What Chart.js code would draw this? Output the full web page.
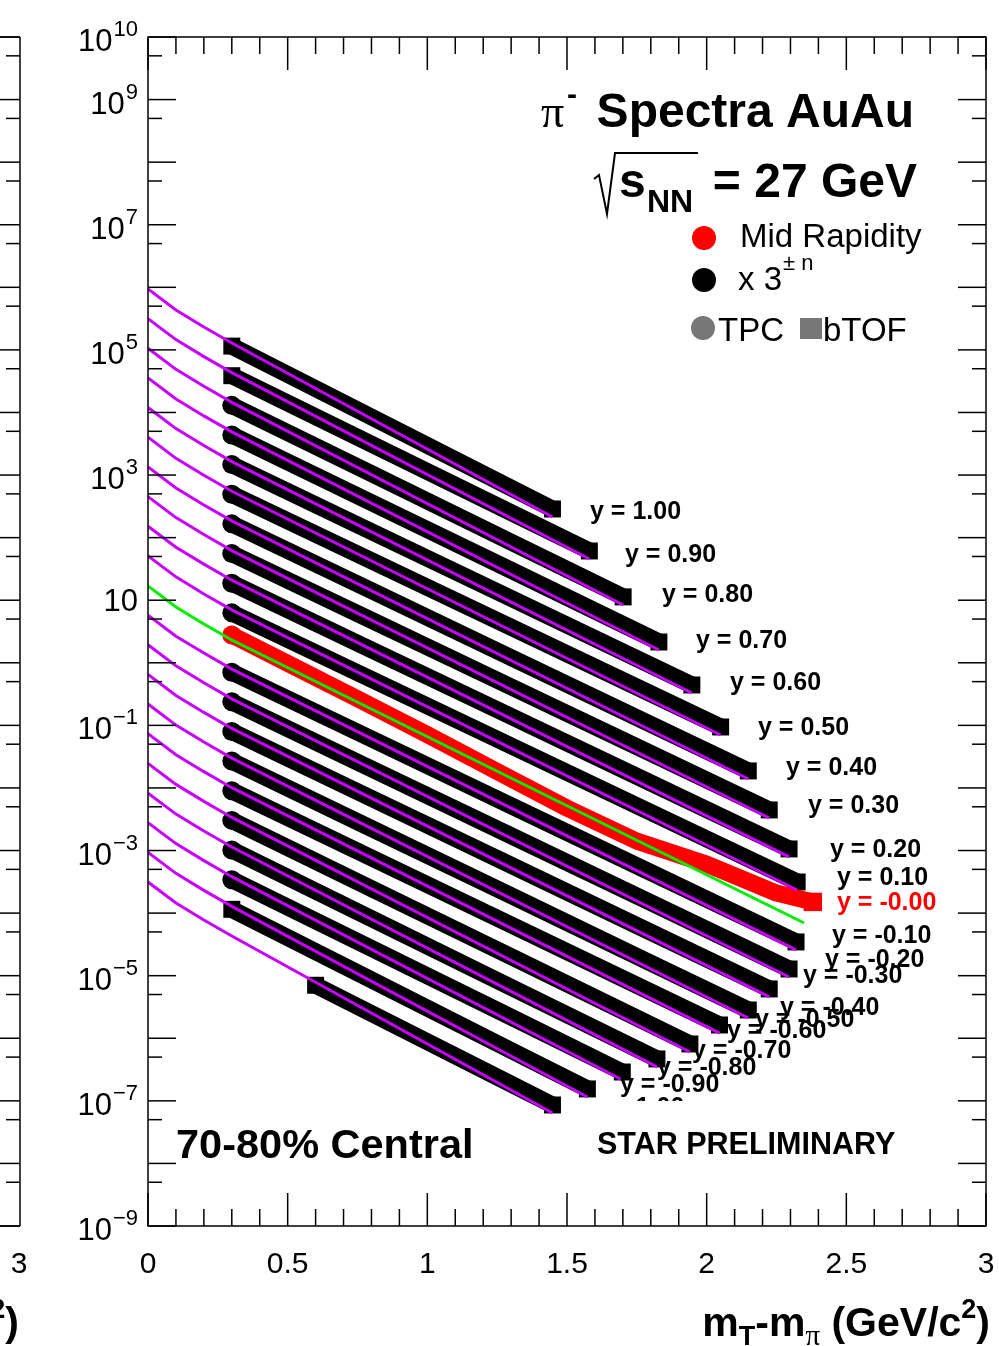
<!DOCTYPE html>
<html><head><meta charset="utf-8">
<script src="https://cdn.jsdelivr.net/npm/chart.js@4/dist/chart.umd.min.js"></script>
<style>html,body{margin:0;padding:0;background:#fff;}#wrap{width:999px;height:1346px;position:relative;}canvas{display:block;}</style>
</head><body><div id="wrap"><canvas id="c" width="999" height="1346"></canvas></div>
<script>
// ---------------- data ----------------
const rapidities = ['1.00','0.90','0.80','0.70','0.60','0.50','0.40','0.30','0.20','0.10','-0.00',
  '-0.10','-0.20','-0.30','-0.40','-0.50','-0.60','-0.70','-0.80','-0.90','-1.00'];
const scalePower = [10,9,8,7,6,5,4,3,2,1,0,-1,-2,-3,-4,-5,-6,-7,-8,-9,-10]; // x 3^n
const hasTPC = [false,false,true,true,true,true,true,true,true,true,true,true,true,true,true,true,true,true,true,false,false];

// measured spectra (bTOF / TPC), [mT-m, dN] already multiplied by 3^n
const yP100 = [[0.3,1.15e5],[0.8,8.47e3],[1.3,622],[1.448,287]];
const yP090 = [[0.3,3.87e4],[0.8,3.12e3],[1.3,251],[1.58,61.2]];
const yP080 = [[0.3,1.30e4],[0.8,1.05e3],[1.3,84.7],[1.701,11.3]];
const yP070 = [[0.3,4.38e3],[0.8,362],[1.3,30.1],[1.829,2.15]];
const yP060 = [[0.3,1.47e3],[0.8,125],[1.3,10.7],[1.947,0.442]];
const yP050 = [[0.3,493],[0.8,42.7],[1.3,3.70],[1.8,0.320],[2.05,0.0942]];
const yP040 = [[0.3,166],[0.8,14.2],[1.3,1.21],[1.8,0.104],[2.149,0.0187]];
const yP030 = [[0.3,55.6],[0.8,4.79],[1.3,0.413],[1.8,0.0356],[2.224,4.45e-3]];
const yP020 = [[0.3,18.7],[0.8,1.61],[1.3,0.139],[1.8,0.0120],[2.295,1.06e-3]];
const yP010 = [[0.3,6.28],[0.8,0.543],[1.3,0.0471],[1.8,4.07e-3],[2.324,3.14e-4]];
const yMid  = [[0.3,2.78],[0.5,0.977],[0.75,0.266],[1.0,0.0713],[1.25,0.0183],[1.5,4.76e-3],[1.75,1.41e-3],[2.0,6.07e-4],[2.25,2.09e-4],[2.38,1.51e-4]];
const yM010 = [[0.3,0.708],[0.8,0.0607],[1.3,5.20e-3],[1.8,4.46e-4],[2.32,3.46e-5]];
const yM020 = [[0.3,0.238],[0.8,0.0202],[1.3,1.72e-3],[1.8,1.47e-4],[2.295,1.28e-5]];
const yM030 = [[0.3,0.0800],[0.8,6.81e-3],[1.3,5.81e-4],[1.8,4.94e-5],[2.224,6.14e-6]];
const yM040 = [[0.3,0.0269],[0.8,2.25e-3],[1.3,1.90e-4],[1.8,1.59e-5],[2.149,2.83e-6]];
const yM050 = [[0.3,9.02e-3],[0.8,7.64e-4],[1.3,6.47e-5],[1.8,5.48e-6],[2.046,1.63e-6]];
const yM060 = [[0.3,3.03e-3],[0.8,2.47e-4],[1.3,2.01e-5],[1.94,8.11e-7]];
const yM070 = [[0.3,1.02e-3],[0.8,8.13e-5],[1.3,6.52e-6],[1.822,4.67e-7]];
const yM080 = [[0.3,3.42e-4],[0.8,2.72e-5],[1.3,2.17e-6],[1.698,2.89e-7]];
const yM090 = [[0.3,1.15e-4],[0.8,8.57e-6],[1.3,6.38e-7],[1.573,1.55e-7]];
const yM100 = [[0.6,7.03e-6],[0.8,2.49e-6],[1.3,1.85e-7],[1.448,8.59e-8]];

// fit functions, [mT-m, value]
const fitP100 = [[0,9.40e5],[0.1,4.34e5],[0.2,2.32e5],[0.3,1.29e5],[1.448,214]];
const fitP090 = [[0,3.16e5],[0.1,1.46e5],[0.2,7.80e4],[0.3,4.33e4],[1.580,45.6]];
const fitP080 = [[0,1.06e5],[0.1,4.89e4],[0.2,2.62e4],[0.3,1.45e4],[1.701,8.39]];
const fitP070 = [[0,3.56e4],[0.1,1.64e4],[0.2,8.81e3],[0.3,4.89e3],[1.829,1.60]];
const fitP060 = [[0,1.20e4],[0.1,5.52e3],[0.2,2.96e3],[0.3,1.64e3],[1.947,0.329]];
const fitP050 = [[0,4.02e3],[0.1,1.85e3],[0.2,993],[0.3,551],[2.050,0.0702]];
const fitP040 = [[0,1.35e3],[0.1,622],[0.2,333],[0.3,185],[2.149,0.0139]];
const fitP030 = [[0,453],[0.1,209],[0.2,112],[0.3,62.1],[2.224,3.31e-3]];
const fitP020 = [[0,152],[0.1,70.3],[0.2,37.7],[0.3,20.9],[2.295,7.89e-4]];
const fitP010 = [[0,51.2],[0.1,23.6],[0.2,12.6],[0.3,7.02],[2.324,2.34e-4]];
const fitMid  = [[0,16.9],[0.1,7.80],[0.2,4.17],[0.3,2.31],[2.349,6.95e-5]];
const fitM010 = [[0,5.77],[0.1,2.66],[0.2,1.43],[0.3,0.791],[2.320,2.58e-5]];
const fitM020 = [[0,1.94],[0.1,0.893],[0.2,0.479],[0.3,0.265],[2.295,9.53e-6]];
const fitM030 = [[0,0.652],[0.1,0.301],[0.2,0.161],[0.3,0.0893],[2.224,4.57e-6]];
const fitM040 = [[0,0.219],[0.1,0.101],[0.2,0.0541],[0.3,0.0300],[2.149,2.11e-6]];
const fitM050 = [[0,0.0735],[0.1,0.0339],[0.2,0.0182],[0.3,0.0101],[2.046,1.21e-6]];
const fitM060 = [[0,0.0247],[0.1,0.0114],[0.2,6.10e-3],[0.3,3.38e-3],[1.940,6.04e-7]];
const fitM070 = [[0,8.28e-3],[0.1,3.82e-3],[0.2,2.05e-3],[0.3,1.14e-3],[1.822,3.48e-7]];
const fitM080 = [[0,2.79e-3],[0.1,1.29e-3],[0.2,6.89e-4],[0.3,3.82e-4],[1.698,2.15e-7]];
const fitM090 = [[0,9.35e-4],[0.1,4.32e-4],[0.2,2.31e-4],[0.3,1.28e-4],[1.573,1.15e-7]];
const fitM100 = [[0,3.14e-4],[0.1,1.45e-4],[0.2,7.76e-5],[0.3,4.31e-5],[1.448,6.40e-8]];

const xTickLabels = ['0','0.5','1','1.5','2','2.5','3'];
const yLabelExponents = [10,9,7,5,3,1,-1,-3,-5,-7,-9];

const spectra = [yP100,yP090,yP080,yP070,yP060,yP050,yP040,yP030,yP020,yP010,yMid,
  yM010,yM020,yM030,yM040,yM050,yM060,yM070,yM080,yM090,yM100];
const fits = [fitP100,fitP090,fitP080,fitP070,fitP060,fitP050,fitP040,fitP030,fitP020,fitP010,fitMid,
  fitM010,fitM020,fitM030,fitM040,fitM050,fitM060,fitM070,fitM080,fitM090,fitM100];

// ---------------- layout / style (not data) ----------------
const FONT = '"Liberation Sans", Arial, Helvetica, sans-serif';
const SERIF = '"Liberation Serif", "DejaVu Serif", serif';
const MAGENTA = '#c800ff';
const labelPos = [[590,519],[625,562],[662,602],[696,648],[730,690],[758,735],[786,775],[808,813],[830,857],[837,885],[837,910],
  [832,943],[825,967],[803,983],[780,1015],[755,1027],[727,1038],[692,1058],[657,1075],[620,1092],[585,1115]];

const toXY = arr => arr.map(p => ({x: p[0], y: p[1]}));
const datasets = [];
spectra.forEach((s, i) => {
  const mid = i === 10;
  const col = mid ? '#ff0000' : '#000000';
  const n = s.length;
  datasets.push({
    label: 'y = ' + rapidities[i], data: toXY(s), order: mid ? 2 : 3,
    borderColor: col, backgroundColor: col, borderWidth: 17, borderCapStyle: 'butt', borderJoinStyle: 'round',
    pointStyle: ctx => (hasTPC[i] && ctx.dataIndex === 0) ? 'circle' : 'rect',
    pointRadius: ctx => {
      if (hasTPC[i] && ctx.dataIndex === 0) return 9.5;
      if (ctx.dataIndex === 0 || ctx.dataIndex === n - 1) return mid && ctx.dataIndex === n - 1 ? 13 : 12;
      return 8;
    },
    pointBorderWidth: 0, pointHoverRadius: 0, tension: 0, fill: false
  });
  datasets.push({
    label: 'fit ' + rapidities[i], data: toXY(fits[i]), order: mid ? 0 : 1,
    borderColor: mid ? '#00ee00' : MAGENTA, borderWidth: 3, pointRadius: 0, tension: 0, fill: false
  });
});

function line(ctx, x1, y1, x2, y2) { ctx.beginPath(); ctx.moveTo(x1, y1); ctx.lineTo(x2, y2); ctx.stroke(); }

function drawXTitle(ctx, xr, base) {
  const parts = [
    {t:'m', f:'bold 41px ' + FONT, dy:0},
    {t:'T', f:'bold 27px ' + FONT, dy:9},
    {t:'-m', f:'bold 41px ' + FONT, dy:0},
    {t:'\u03c0', f:'29px ' + SERIF, dy:9},
    {t:' (GeV/c', f:'bold 41px ' + FONT, dy:0},
    {t:'2', f:'bold 27px ' + FONT, dy:-18},
    {t:')', f:'bold 41px ' + FONT, dy:0}
  ];
  let total = 0;
  parts.forEach(p => { ctx.font = p.f; p.w = ctx.measureText(p.t).width; total += p.w; });
  let x = xr - total;
  ctx.textAlign = 'left'; ctx.textBaseline = 'alphabetic'; ctx.fillStyle = '#000';
  parts.forEach(p => { ctx.font = p.f; ctx.fillText(p.t, x, base + p.dy); x += p.w; });
}

const decor = {
  id: 'decor',
  afterDatasetsDraw(chart) {
    const ctx = chart.ctx;
    const xs = chart.scales.x, ys = chart.scales.y;
    const {left, right, top, bottom} = chart.chartArea;
    ctx.save();
    ctx.strokeStyle = '#000'; ctx.fillStyle = '#000'; ctx.lineWidth = 1.5;

    // series labels
    ctx.font = 'bold 25px ' + FONT; ctx.textAlign = 'left'; ctx.textBaseline = 'alphabetic';
    rapidities.forEach((r, i) => {
      ctx.fillStyle = i === 10 ? '#ff0000' : '#000';
      ctx.fillText('y = ' + r, labelPos[i][0], labelPos[i][1]);
    });
    // white box of preliminary label
    ctx.fillStyle = '#fff'; ctx.fillRect(575, 1101, 380, 75);
    ctx.fillStyle = '#000';
    ctx.font = 'bold 30.5px ' + FONT; ctx.fillText('STAR PRELIMINARY', 597, 1154);
    ctx.font = 'bold 41.5px ' + FONT; ctx.fillText('70-80% Central', 176, 1158);

    // frame
    ctx.strokeRect(left, top, right - left, bottom - top);
    // x ticks
    for (let i = 0; i <= 30; i++) {
      const p = xs.getPixelForValue(i / 10);
      const len = i % 5 === 0 ? 33 : 17;
      line(ctx, p, bottom, p, bottom - len);
      line(ctx, p, top, p, top + len);
    }
    // y ticks
    for (let e = -9; e <= 10; e++) {
      const p = ys.getPixelForValue(Math.pow(10, e));
      line(ctx, left, p, left + 28, p); line(ctx, right, p, right - 28, p);
      if (e < 10) {
        const q = ys.getPixelForValue(5 * Math.pow(10, e));
        line(ctx, left, q, left + 14, q); line(ctx, right, q, right - 14, q);
      }
    }
    // x tick labels
    ctx.font = '30px ' + FONT; ctx.textAlign = 'center'; ctx.textBaseline = 'alphabetic';
    xTickLabels.forEach(t => ctx.fillText(t, xs.getPixelForValue(parseFloat(t)), 1273));
    // y tick labels
    yLabelExponents.forEach(e => {
      const p = ys.getPixelForValue(Math.pow(10, e));
      const xr = 138;
      ctx.textAlign = 'left';
      if (e === 1) {
        ctx.font = '31px ' + FONT; const w = ctx.measureText('10').width;
        ctx.fillText('10', xr - w, p + 11);
        return;
      }
      const sup = (e < 0 ? '\u2212' : '') + Math.abs(e);
      ctx.font = '22px ' + FONT; const ws = ctx.measureText(sup).width;
      ctx.font = '31px ' + FONT; const wb = ctx.measureText('10').width;
      const x0 = xr - ws - wb - 1;
      ctx.fillText('10', x0, p + 14);
      ctx.font = '22px ' + FONT; ctx.fillText(sup, x0 + wb + 1, p - 1);
    });
    // x title
    drawXTitle(ctx, 990, 1336);

    // title texts
    ctx.textAlign = 'left';
    ctx.font = '46px ' + SERIF; ctx.fillText('\u03c0', 541, 127);
    ctx.font = 'bold 30px ' + FONT; ctx.fillText('-', 567, 104);
    ctx.font = 'bold 48px ' + FONT; ctx.textAlign = 'right'; ctx.fillText('Spectra AuAu', 914, 127);
    ctx.fillText('= 27 GeV', 917, 197);
    ctx.textAlign = 'left'; ctx.fillText('s', 619, 197);
    ctx.font = 'bold 32px ' + FONT; ctx.fillText('NN', 647, 212);
    ctx.lineWidth = 2;
    ctx.beginPath(); ctx.moveTo(594, 179); ctx.lineTo(599, 175); ctx.lineTo(607, 214); ctx.lineTo(615, 153); ctx.lineTo(698, 153); ctx.stroke();
    ctx.lineWidth = 1.5;

    // legend
    ctx.fillStyle = '#ff0000'; ctx.beginPath(); ctx.arc(704, 238, 12, 0, 2 * Math.PI); ctx.fill();
    ctx.fillStyle = '#000'; ctx.beginPath(); ctx.arc(704, 280, 12, 0, 2 * Math.PI); ctx.fill();
    ctx.fillStyle = '#777'; ctx.beginPath(); ctx.arc(703, 328, 12, 0, 2 * Math.PI); ctx.fill();
    ctx.fillRect(800, 318, 22, 21);
    ctx.fillStyle = '#000';
    ctx.font = '33px ' + FONT; ctx.fillText('Mid Rapidity', 740, 247);
    ctx.fillText('x 3', 738, 290);
    const w3 = ctx.measureText('x 3').width;
    ctx.font = '22px ' + FONT; ctx.fillText('\u00b1 n', 738 + w3 + 1, 270);
    ctx.font = '33px ' + FONT; ctx.fillText('TPC', 718, 341); ctx.fillText('bTOF', 823, 341);

    // neighbouring panel (cut at the left edge)
    ctx.strokeStyle = '#000'; ctx.lineWidth = 1.5;
    line(ctx, 20, top, 20, bottom); line(ctx, 0, top, 20, top); line(ctx, 0, bottom, 20, bottom);
    for (let e = -9; e <= 10; e++) {
      const p = ys.getPixelForValue(Math.pow(10, e));
      line(ctx, 0, p, 20, p);
      if (e < 10) { const q = ys.getPixelForValue(5 * Math.pow(10, e)); line(ctx, 6, q, 20, q); }
    }
    ctx.font = '30px ' + FONT; ctx.textAlign = 'center'; ctx.fillText('3', 19, 1273);
    drawXTitle(ctx, 19, 1336);
    ctx.restore();
  }
};

new Chart(document.getElementById('c'), {
  type: 'line',
  data: { datasets },
  options: {
    responsive: false, animation: false, devicePixelRatio: 1, events: [],
    layout: { padding: { left: 148, right: 9, top: 37, bottom: 120 } },
    plugins: { legend: { display: false }, tooltip: { enabled: false } },
    scales: {
      x: { type: 'linear', min: 0, max: 3, display: false },
      y: { type: 'logarithmic', min: 1e-9, max: 1e10, display: false }
    }
  },
  plugins: [decor]
});
</script></body></html>
